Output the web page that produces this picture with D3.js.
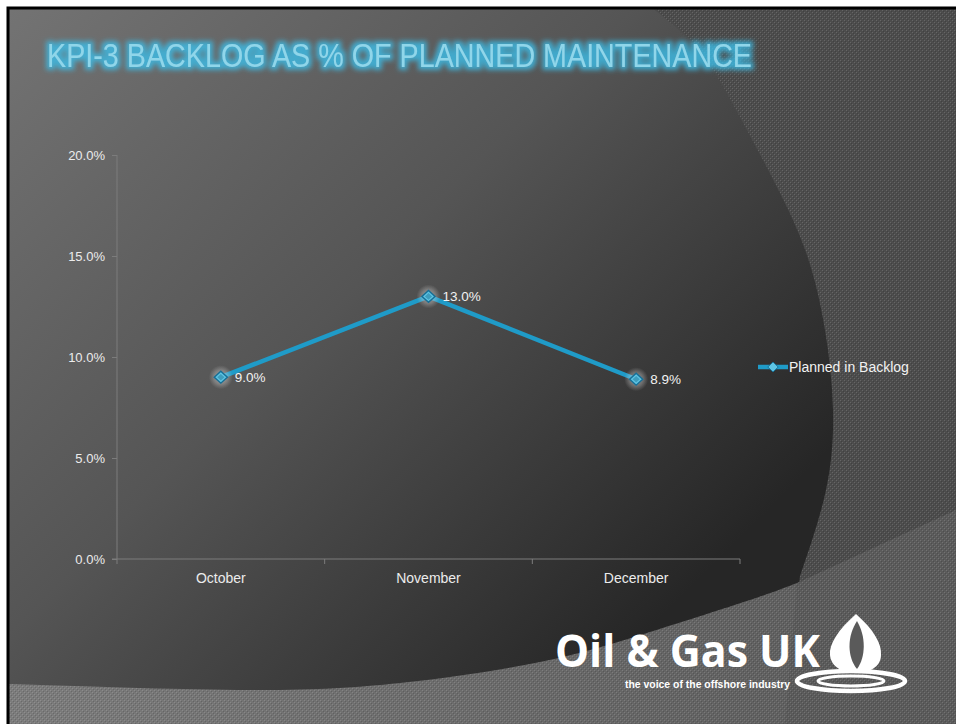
<!DOCTYPE html>
<html>
<head>
<meta charset="utf-8">
<script src="https://cdn.jsdelivr.net/npm/d3@7"></script>
<style>
  body { margin: 0; background: #fff; }
  svg { display: block; }
</style>
</head>
<body>
<div class="chart"></div>
<script>
var svgWidth = 956;
var svgHeight = 724;

// chart data
var months = ["October", "November", "December"];
var backlog = [0.090, 0.130, 0.089];
var yTicks = [0, 0.05, 0.10, 0.15, 0.20];
var seriesName = "Planned in Backlog";
var title = "KPI-3 BACKLOG AS % OF PLANNED MAINTENANCE";

var plot = { left: 117, right: 740, top: 155, bottom: 559 };

var svg = d3.select(".chart")
  .append("svg")
  .attr("width", svgWidth)
  .attr("height", svgHeight);

var defs = svg.append("defs");

// slide gradient (light top-left -> dark bottom-right)
var grad = defs.append("linearGradient")
  .attr("id", "slideGrad")
  .attr("gradientUnits", "userSpaceOnUse")
  .attr("x1", 0).attr("y1", 0).attr("x2", 640).attr("y2", 640);
grad.append("stop").attr("offset", 0).attr("stop-color", "#747474");
grad.append("stop").attr("offset", 0.5).attr("stop-color", "#555555");
grad.append("stop").attr("offset", 1).attr("stop-color", "#262626");

var bandGrad = defs.append("linearGradient")
  .attr("id", "bandGrad")
  .attr("x1", 0).attr("y1", 0).attr("x2", 1).attr("y2", 0);
bandGrad.append("stop").attr("offset", 0).attr("stop-color", "#7c7c7c");
bandGrad.append("stop").attr("offset", 1).attr("stop-color", "#606060");

// little checker texture
var tex = defs.append("pattern")
  .attr("id", "tex")
  .attr("width", 4).attr("height", 4)
  .attr("patternUnits", "userSpaceOnUse");
tex.append("rect").attr("x", 0).attr("y", 0).attr("width", 1).attr("height", 1).attr("fill", "rgba(255,255,255,0.14)");
tex.append("rect").attr("x", 2).attr("y", 2).attr("width", 1).attr("height", 1).attr("fill", "rgba(255,255,255,0.14)");
tex.append("rect").attr("x", 1).attr("y", 1).attr("width", 1).attr("height", 1).attr("fill", "rgba(0,0,0,0.14)");
tex.append("rect").attr("x", 3).attr("y", 3).attr("width", 1).attr("height", 1).attr("fill", "rgba(0,0,0,0.14)");

// title glow
var glow = defs.append("filter").attr("id", "glow")
  .attr("x", "-5%").attr("y", "-40%").attr("width", "110%").attr("height", "180%");
glow.append("feMorphology").attr("in", "SourceAlpha").attr("operator", "dilate").attr("radius", 2.5).attr("result", "d");
glow.append("feGaussianBlur").attr("in", "d").attr("stdDeviation", 2.5).attr("result", "b");
glow.append("feFlood").attr("flood-color", "#3bbde8").attr("flood-opacity", 0.8);
glow.append("feComposite").attr("in2", "b").attr("operator", "in").attr("result", "g");
var gm = glow.append("feMerge");
gm.append("feMergeNode").attr("in", "g");
gm.append("feMergeNode").attr("in", "SourceGraphic");

var halo = defs.append("radialGradient").attr("id", "halo");
halo.append("stop").attr("offset", 0).attr("stop-color", "#ffffff").attr("stop-opacity", 0.55);
halo.append("stop").attr("offset", 0.6).attr("stop-color", "#dddddd").attr("stop-opacity", 0.3);
halo.append("stop").attr("offset", 1).attr("stop-color", "#cccccc").attr("stop-opacity", 0);

// ---- background ----
var bg = svg.append("g");
bg.append("rect").attr("x", 8).attr("y", 8).attr("width", svgWidth).attr("height", svgHeight)
  .attr("fill", "#4c4c4c");
bg.append("rect").attr("x", 8).attr("y", 8).attr("width", svgWidth).attr("height", svgHeight)
  .attr("fill", "url(#tex)");

var curve = d3.line().curve(d3.curveNatural);
var arcPts = [[652, 8], [700, 52], [740, 117], [777, 187], [807, 255], [825, 330], [833, 410], [826, 490], [800, 576]];
bg.append("path")
  .attr("d", "M8,8 L" + curve(arcPts).slice(1) + " L780,724 L8,724 Z")
  .attr("fill", "url(#slideGrad)");

// lower right wedge
bg.append("path")
  .attr("d", "M797,583 L956,510 L956,724 L770,724 Z")
  .attr("fill", "#5b5b5b");
bg.append("path")
  .attr("d", "M797,583 L956,510 L956,724 L770,724 Z")
  .attr("fill", "url(#tex)");

// bottom band
var bandPts = [[8, 684], [250, 690], [400, 683], [540, 662], [650, 632], [750, 600], [797, 583]];
var bandD = "M" + curve(bandPts).slice(1) + " L785,724 L8,724 Z";
bg.append("path").attr("d", bandD).attr("fill", "url(#bandGrad)");
bg.append("path").attr("d", bandD).attr("fill", "url(#tex)");

// frame
svg.append("rect").attr("x", 8).attr("y", 8).attr("width", svgWidth + 10).attr("height", svgHeight + 10)
  .attr("fill", "none").attr("stroke", "#000").attr("stroke-width", 3);

// ---- title ----
svg.append("text")
  .attr("x", 47).attr("y", 67)
  .attr("textLength", 705)
  .attr("lengthAdjust", "spacingAndGlyphs")
  .style("font-family", "'Liberation Sans Narrow', 'Arial Narrow', sans-serif")
  .style("font-size", "33px")
  .attr("fill", "#8fd6ea")
  .attr("filter", "url(#glow)")
  .text(title);

// ---- chart ----
var x = d3.scaleBand().domain(months).range([plot.left, plot.right]);
var y = d3.scaleLinear().domain([0, 0.2]).range([plot.bottom, plot.top]);

var chartGroup = svg.append("g")
  .style("font-family", "'Liberation Sans', Arial, sans-serif");

var leftAxis = d3.axisLeft(y).tickValues(yTicks).tickFormat(d3.format(".1%")).tickSize(5).tickPadding(7);
var yAxis = chartGroup.append("g")
  .attr("transform", `translate(${plot.left},0)`)
  .call(leftAxis);
yAxis.select(".domain").attr("stroke", "#7c7c7c").attr("d", `M-5,${plot.bottom}H0V${plot.top}`);
yAxis.selectAll(".tick line").attr("stroke", "#7c7c7c");
yAxis.selectAll(".tick text").attr("fill", "#ececec").style("font-size", "13px").style("font-family", "'Liberation Sans', Arial, sans-serif");

var bottomAxis = d3.axisBottom(x).tickSize(0).tickPadding(14);
var xAxis = chartGroup.append("g")
  .attr("transform", `translate(0,${plot.bottom})`)
  .call(bottomAxis);
xAxis.select(".domain").attr("stroke", "#7c7c7c").attr("d", `M${plot.left},0H${plot.right}`);
xAxis.selectAll(".tick text").attr("fill", "#ececec").style("font-size", "14px").style("font-family", "'Liberation Sans', Arial, sans-serif");
// category boundary ticks
var bounds = months.map(d => x(d)).concat([x.range()[1]]);
xAxis.selectAll("line.bound")
  .data(bounds)
  .enter()
  .append("line")
  .attr("class", "bound")
  .attr("x1", d => d).attr("x2", d => d)
  .attr("y1", 0).attr("y2", 5)
  .attr("stroke", "#7c7c7c");

var pts = months.map((m, i) => ({ m: m, v: backlog[i] }));
var cx = d => x(d.m) + x.bandwidth() / 2;

chartGroup.append("path")
  .datum(pts)
  .attr("fill", "none")
  .attr("stroke", "#1f9bc8")
  .attr("stroke-width", 4.5)
  .attr("stroke-linejoin", "round")
  .attr("d", d3.line().x(cx).y(d => y(d.v)));

var diamond = d3.symbol().type(d3.symbolDiamond2).size(110);

function marker(g, px, py) {
  g.append("circle").attr("cx", px).attr("cy", py).attr("r", 12).attr("fill", "url(#halo)");
  g.append("path")
    .attr("transform", `translate(${px},${py}) scale(1,0.9)`)
    .attr("d", diamond())
    .attr("fill", "#5ec5e4")
    .attr("stroke", "#176f96")
    .attr("stroke-width", 1.5);
  g.append("path")
    .attr("transform", `translate(${px},${py}) scale(0.55,0.5)`)
    .attr("d", diamond())
    .attr("fill", "#3f9dbd");
}

pts.forEach(function (d) {
  marker(chartGroup, cx(d), y(d.v));
});

chartGroup.selectAll("text.dlabel")
  .data(pts)
  .enter()
  .append("text")
  .attr("class", "dlabel")
  .attr("x", d => cx(d) + 14)
  .attr("y", d => y(d.v) + 5)
  .attr("fill", "#f2f2f2")
  .style("font-size", "13.5px")
  .text(d => d3.format(".1%")(d.v));

// legend
var legend = svg.append("g").style("font-family", "'Liberation Sans', Arial, sans-serif");
legend.append("line")
  .attr("x1", 758).attr("x2", 788).attr("y1", 367).attr("y2", 367)
  .attr("stroke", "#1f9bc8").attr("stroke-width", 4.5);
legend.append("path")
  .attr("transform", "translate(773,367) scale(0.8,0.75)")
  .attr("d", diamond())
  .attr("fill", "#5ec5e4")
  .attr("stroke", "#176f96")
  .attr("stroke-width", 1.2);
legend.append("text")
  .attr("x", 789).attr("y", 372)
  .attr("fill", "#f2f2f2")
  .style("font-size", "14px")
  .text(seriesName);

// ---- logo ----
var logo = svg.append("g").attr("fill", "#fff");
logo.append("text")
  .attr("x", 555).attr("y", 667)
  .attr("textLength", 265).attr("lengthAdjust", "spacingAndGlyphs")
  .style("font-family", "'Open Sans', 'Noto Sans', sans-serif")
  .style("font-weight", "bold")
  .style("font-size", "44px")
  .text("Oil & Gas UK");
logo.append("text")
  .attr("x", 625).attr("y", 688)
  .attr("textLength", 165).attr("lengthAdjust", "spacingAndGlyphs")
  .style("font-family", "'Liberation Sans', Arial, sans-serif")
  .style("font-weight", "bold")
  .style("font-size", "10px")
  .text("the voice of the offshore industry");
logo.append("path")
  .attr("d", "M856,614 C838,630 829,644 830,655 C831,667 843,673 856,673 C869,673 881,667 881,655 C882,644 874,630 856,614 Z");
logo.append("path")
  .attr("d", "M857,621 C847,636 847,657 857,669 C866,657 866,636 857,621 Z")
  .attr("fill", "#5a5a5a");
logo.append("ellipse")
  .attr("cx", 851).attr("cy", 681).attr("rx", 54).attr("ry", 10)
  .attr("fill", "none").attr("stroke", "#fff").attr("stroke-width", 4.5);
logo.append("ellipse")
  .attr("cx", 851).attr("cy", 681).attr("rx", 33).attr("ry", 5)
  .attr("fill", "none").attr("stroke", "#fff").attr("stroke-width", 3);
</script>
</body>
</html>
